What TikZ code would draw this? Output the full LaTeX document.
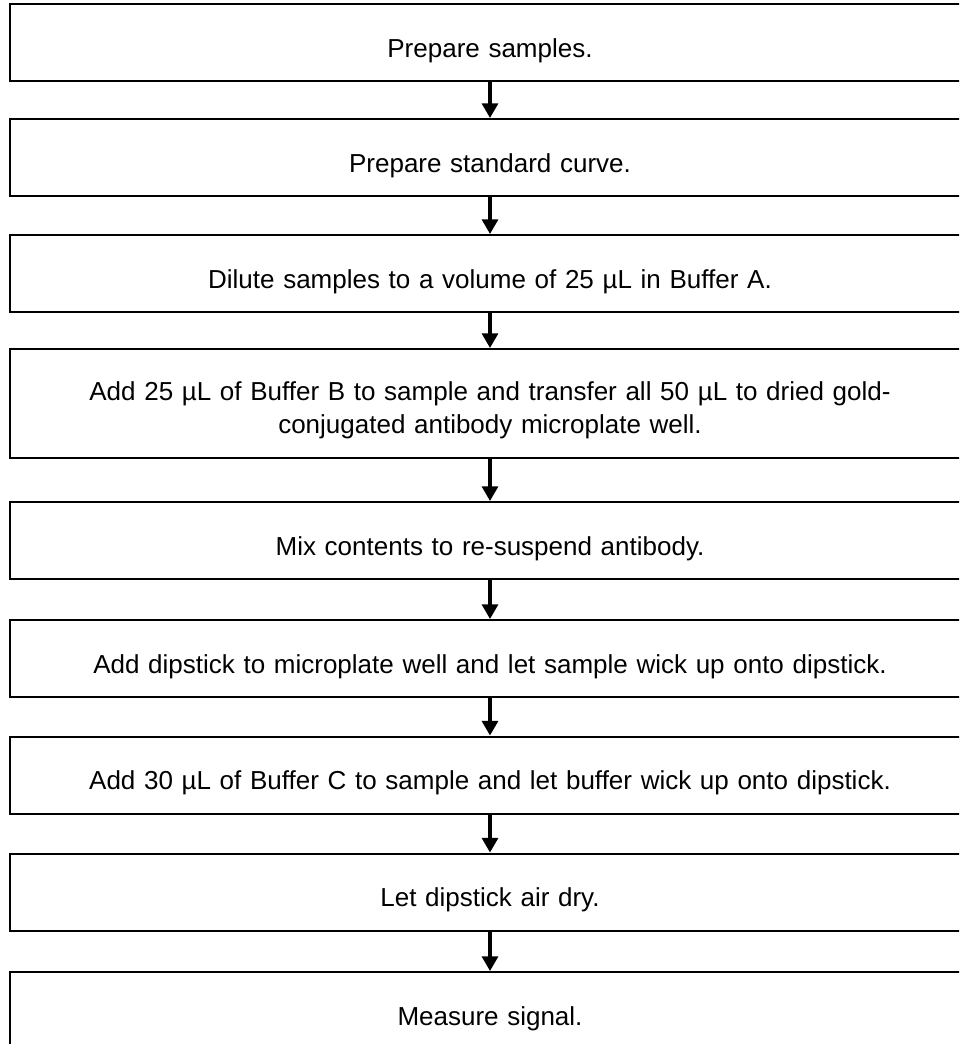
\documentclass[tikz,border=0pt]{standalone}
\usepackage{fontspec}
\setmainfont{Liberation Sans}
\usetikzlibrary{arrows.meta}

\begin{document}
\begin{tikzpicture}[x=0.75pt, y=-0.75pt,
        stepbox/.style = {draw, line width=1.5pt, inner sep=0pt, minimum width=720pt, minimum height=57.75pt,
            text width=700pt, align=center, text height=22.2pt, text depth=0pt,
            font=\fontsize{19.5pt}{24.4pt}\selectfont},
        flow/.style = {line width=2.4pt, -{Triangle[width=12pt,length=11pt]}},]
        \useasboundingbox (0,0) rectangle (959,1044);
        \clip (0,0) rectangle (959,1044);

        \node[stepbox] (b1) at (490,43) {Prepare samples.};
        \node[stepbox] (b2) at (490,157.5) {Prepare standard curve.};
        \node[stepbox] (b3) at (490,273.5) {Dilute samples to a volume of 25 µL in Buffer A.};
        \node[stepbox, minimum height=81.75pt, text depth=26pt] (b4) at (490,403.5)
            {Add 25 µL of Buffer B to sample and transfer all 50 µL to dried gold-\\conjugated antibody microplate well.};
        \node[stepbox] (b5) at (490,540.5) {Mix contents to re-suspend antibody.};
        \node[stepbox] (b6) at (490,658.5) {Add dipstick to microplate well and let sample wick up onto dipstick.};
        \node[stepbox] (b7) at (490,775) {Add 30 µL of Buffer C to sample and let buffer wick up onto dipstick.};
        \node[stepbox] (b8) at (490,892) {Let dipstick air dry.};
        \node[stepbox] (b9) at (490,1010.5) {Measure signal.};

        \foreach \a/\b in {b1/b2, b2/b3, b3/b4, b4/b5, b5/b6, b6/b7, b7/b8, b8/b9}
            \draw[flow] (\a.south) -- (\b.north);
\end{tikzpicture}
\end{document}
